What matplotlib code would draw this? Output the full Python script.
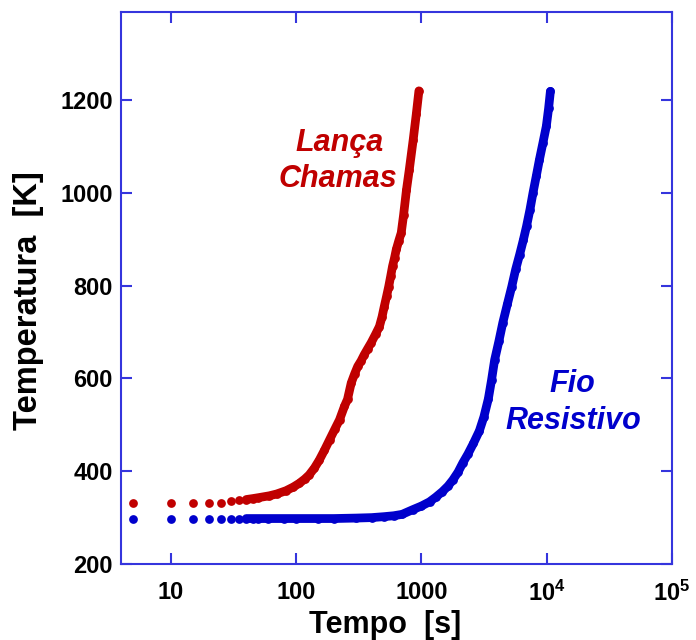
import matplotlib
matplotlib.use("Agg")
import matplotlib.pyplot as plt
from matplotlib.ticker import FixedLocator, FixedFormatter

# ---- data ----
red_t = [5, 10, 15, 20, 25, 30, 35, 40, 45, 50, 61, 70, 83, 95, 106, 117, 127, 140, 153,
         168, 185, 203, 222, 243, 257, 275, 293, 310, 330, 349, 372, 397, 430, 462, 485,
         505, 527, 548, 568, 588, 610, 630, 660, 690, 720, 760, 800, 860, 910, 955]
red_T = [332, 332, 332, 332, 332, 335, 337, 339, 341, 343, 347, 351, 358, 366, 374, 383, 392, 407, 424,
         445, 468, 490, 511, 540, 555, 590, 610, 626, 638, 651, 664, 677, 695, 712, 733,
         755, 777, 798, 820, 842, 860, 878, 897, 914, 952, 1007, 1050, 1115, 1170, 1220]

blue_t = [5, 10, 15, 20, 25, 30, 35, 40, 45, 50, 60, 80, 100, 150, 200, 300, 400, 500, 600,
          700, 850, 1000, 1160, 1300, 1470, 1630, 1780, 1960, 2140, 2350, 2600, 2900, 3150,
          3420, 3630, 3840, 4150, 4460, 4850, 5260, 5650, 6080, 6500, 6900, 7350, 7770,
          8250, 8750, 9330, 9930, 10350, 10700]
blue_T = [298, 298, 298, 298, 298, 298, 298, 298, 298, 298, 298, 298, 298, 298, 298, 299, 300, 302, 304,
          307, 317, 325, 334, 344, 356, 368, 381, 398, 418, 437, 460, 487, 517,
          556, 597, 640, 680, 720, 760, 798, 835, 867, 898, 928, 964, 1000,
          1036, 1072, 1108, 1144, 1182, 1219]

x_ticks = [10, 100, 1000, 1e4, 1e5]
x_ticklabels = ["10", "100", "1000", r"$\mathbf{10^{4}}$", r"$\mathbf{10^{5}}$"]
y_ticks = [200, 400, 600, 800, 1000, 1200]

RED = "#c00000"
BLUE = "#0000cc"
AXC = "#3535dd"

plt.rcParams["font.family"] = ["Liberation Sans", "DejaVu Sans"]
plt.rcParams["mathtext.fontset"] = "custom"
plt.rcParams["mathtext.bf"] = "Liberation Sans:bold"
plt.rcParams["mathtext.rm"] = "Liberation Sans:bold"

fig = plt.figure(figsize=(6.96, 6.40), dpi=100)
ax = fig.add_axes([121 / 696, 1 - 564 / 640, (672 - 121) / 696, (564 - 12) / 640])

ms = 6.3
lw = 6.3
# sparse leading dots + dense continuous part
ax.plot(red_t, red_T, "o", color=RED, ms=ms, mec="none")
ax.plot(red_t[7:], red_T[7:], "-", color=RED, lw=lw, solid_capstyle="round", solid_joinstyle="round")
ax.plot(blue_t, blue_T, "o", color=BLUE, ms=ms, mec="none")
ax.plot(blue_t[7:], blue_T[7:], "-", color=BLUE, lw=lw, solid_capstyle="round", solid_joinstyle="round")

ax.set_xscale("log")
ax.set_xlim(4, 1e5)
ax.set_ylim(200, 1390)

ax.xaxis.set_major_locator(FixedLocator(x_ticks))
ax.xaxis.set_major_formatter(FixedFormatter(x_ticklabels))
ax.xaxis.set_minor_locator(FixedLocator([]))
ax.yaxis.set_major_locator(FixedLocator(y_ticks))

for s in ax.spines.values():
    s.set_color(AXC)
    s.set_linewidth(1.5)

ax.tick_params(axis="both", which="major", direction="in", length=8, width=1.5,
               color=AXC, top=True, right=True, labelsize=17)
ax.tick_params(axis="x", pad=12)
ax.tick_params(axis="y", pad=6)
for lab in ax.get_xticklabels() + ax.get_yticklabels():
    lab.set_fontweight("bold")

ax.set_xlabel("Tempo  [s]", fontsize=22, fontweight="bold")
ax.set_ylabel("Temperatura  [K]", fontsize=23.5, fontweight="bold")
ax.xaxis.set_label_coords((385 - 121) / 551, -(625 - 564) / 552, transform=ax.transAxes)
ax.yaxis.set_label_coords(-(121 - 29) / 551, (564 - 301) / 552, transform=ax.transAxes)
ax.xaxis.label.set_va("center")
ax.yaxis.label.set_va("center")

def ftxt(x, y, s, c):
    fig.text(x / 696, 1 - y / 640, s, color=c, fontsize=22, fontweight="bold",
             fontstyle="italic", ha="center", va="center")

ftxt(340, 143, "Lança", RED)
ftxt(338, 179, "Chamas", RED)
ftxt(572, 384, "Fio", BLUE)
ftxt(573, 421, "Resistivo", BLUE)

fig.savefig("out.png", dpi=100)
